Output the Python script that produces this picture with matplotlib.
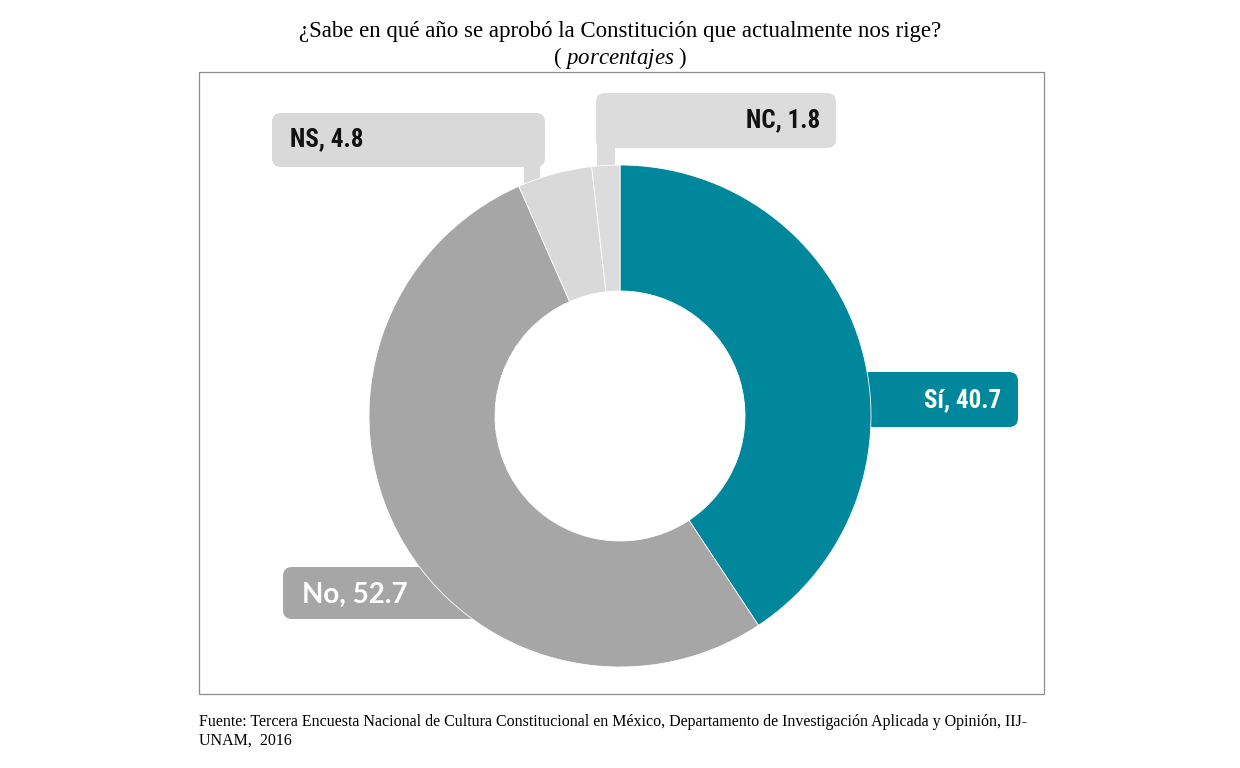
import matplotlib
matplotlib.use("Agg")
import matplotlib.pyplot as plt
from matplotlib.patches import FancyBboxPatch, Rectangle

plt.rcParams['mathtext.fontset'] = 'custom'
plt.rcParams['mathtext.rm'] = 'Liberation Serif'
plt.rcParams['mathtext.it'] = 'Liberation Serif:italic'

# data
categories = ["Sí", "No", "NS", "NC"]
values = [40.7, 52.7, 4.8, 1.8]
colors = ["#00879b", "#a6a6a6", "#d9d9d9", "#dcdcdc"]

title = "¿Sabe en qué año se aprobó la Constitución que actualmente nos rige?"
subtitle = r"( $\mathit{porcentajes}$ )"
source = ("Fuente: Tercera Encuesta Nacional de Cultura Constitucional en México, "
          "Departamento de Investigación Aplicada y Opinión, IIJ-\nUNAM,  2016")

W, H = 1240, 768


def Y(y):
    # image pixel row -> data y
    return H - y


fig = plt.figure(figsize=(12.4, 7.68), dpi=100)
ax = fig.add_axes([0, 0, 1, 1])

cx, cy, r = 620, 416, 251
ax.pie(values, colors=colors, startangle=90, counterclock=False,
       center=(cx, Y(cy)), radius=r,
       wedgeprops=dict(width=126, edgecolor="white", linewidth=0.6, zorder=3))

ax.set_xlim(0, W)
ax.set_ylim(0, H)
ax.set_aspect("equal")
ax.axis("off")

# frame around the chart
ax.add_patch(Rectangle((199, Y(694)), 845, 622, fill=False,
                       edgecolor="#8c8c8c", linewidth=0.9, zorder=1))


def label_box(x0, y0, x1, y1, color):
    ax.add_patch(FancyBboxPatch((x0, Y(y1)), x1 - x0, y1 - y0,
                                boxstyle="round,pad=0,rounding_size=9",
                                facecolor=color, edgecolor="none", zorder=2))


cond = dict(family=["Roboto Condensed", "DejaVu Sans"], fontstretch="condensed",
            fontweight="bold", fontsize=18)

# Sí
label_box(840, 372, 1018, 427, colors[0])
ax.text(1001, Y(400), f"{categories[0]}, {values[0]}", ha="right", va="center",
        color="white", zorder=5, **cond)

# No
label_box(283, 567, 480, 619, colors[1])
ax.text(302, Y(595), f"{categories[1]}, {values[1]}", ha="left", va="center",
        fontsize=20, fontweight="bold", family=["Lato", "DejaVu Sans"],
        color="white", zorder=5)

# NS
label_box(272, 113, 545, 167, colors[2])
ax.add_patch(Rectangle((524, Y(200)), 16, 40, facecolor=colors[2],
                       edgecolor="none", zorder=2))
ax.text(290, Y(139), f"{categories[2]}, {values[2]}", ha="left", va="center",
        color="#111111", zorder=5, **cond)

# NC
label_box(596, 93, 836, 148, colors[3])
ax.add_patch(Rectangle((597, Y(185)), 18, 45, facecolor=colors[3],
                       edgecolor="none", zorder=2))
ax.text(820, Y(120), f"{categories[3]}, {values[3]}", ha="right", va="center",
        color="#111111", zorder=5, **cond)

# titles
ax.text(620, Y(32), title, ha="center", va="center", fontsize=16.5,
        family="Liberation Serif", color="black")
ax.text(620, Y(58), subtitle, ha="center", va="center", fontsize=16.5,
        family="Liberation Serif", color="black")

# source
ax.text(199, Y(731), source, ha="left", va="center", fontsize=11.5,
        family="Liberation Serif", color="black", linespacing=1.2)

fig.savefig("out.png", dpi=100, facecolor="white")
